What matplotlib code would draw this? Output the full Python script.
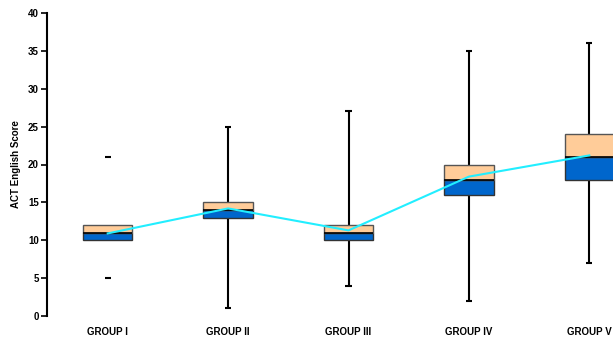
import numpy as np
import matplotlib
matplotlib.use("Agg")
import matplotlib.pyplot as plt

plt.rcParams['font.family'] = ['Liberation Sans', 'DejaVu Sans']

# ACT English score summary per group
groups = ['GROUP I', 'GROUP II', 'GROUP III', 'GROUP IV', 'GROUP V']
whisker_low = [5, 1, 4, 2, 7]
q1 = [10, 13, 10, 16, 18]
median = [11, 14, 11, 18, 21]
q3 = [12, 15, 12, 20, 24]
whisker_high = [21, 25, 27, 35, 36]
means = [10.9, 14.2, 11.3, 18.4, 21.2]
# first group only shows the whisker end marks
whisker_line = [False, True, True, True, True]

pos = np.arange(1, len(groups) + 1)

fig = plt.figure(figsize=(6.13, 3.37), dpi=100)
ax = fig.add_axes([47 / 613, 21 / 337, 1.0, 303 / 337])

box_w = 0.41
cap_w = 0.05
peach = '#FFCC99'
blue = '#0066CC'

# lower half (Q1 to median) and upper half (median to Q3)
ax.bar(pos, np.subtract(median, q1), bottom=q1, width=box_w,
       color=blue, edgecolor='#333333', linewidth=1, zorder=2)
ax.bar(pos, np.subtract(q3, median), bottom=median, width=box_w,
       color=peach, edgecolor='#555555', linewidth=1, zorder=2)
ax.hlines(median, pos - box_w / 2, pos + box_w / 2, color='black',
          linewidth=1.2, zorder=3)

for i, p in enumerate(pos):
    if whisker_line[i]:
        ax.vlines(p, whisker_low[i], q1[i], color='black', linewidth=1.5, zorder=1)
        ax.vlines(p, q3[i], whisker_high[i], color='black', linewidth=1.5, zorder=1)
    ax.hlines([whisker_low[i], whisker_high[i]], p - cap_w / 2, p + cap_w / 2,
              color='black', linewidth=1.5, zorder=1)

ax.plot(pos, means, color='#22EEFF', linewidth=1.5, zorder=4)

ax.set_xlim(0.496, 5.587)
ax.set_ylim(0, 40)
ax.set_yticks(np.arange(0, 41, 5))
ax.set_xticks(pos)
ax.set_xticklabels(groups, fontsize=7, fontweight='bold')
ax.tick_params(axis='x', length=0, pad=8)
ax.tick_params(axis='y', labelsize=7, length=4, width=1.2, pad=2)
for t in ax.get_yticklabels():
    t.set_fontweight('bold')
ax.set_ylabel('ACT English Score', fontsize=7, fontweight='bold', labelpad=5)

for s in ['top', 'right', 'bottom']:
    ax.spines[s].set_visible(False)
ax.spines['left'].set_linewidth(1.5)

fig.savefig('out.png', dpi=100)
